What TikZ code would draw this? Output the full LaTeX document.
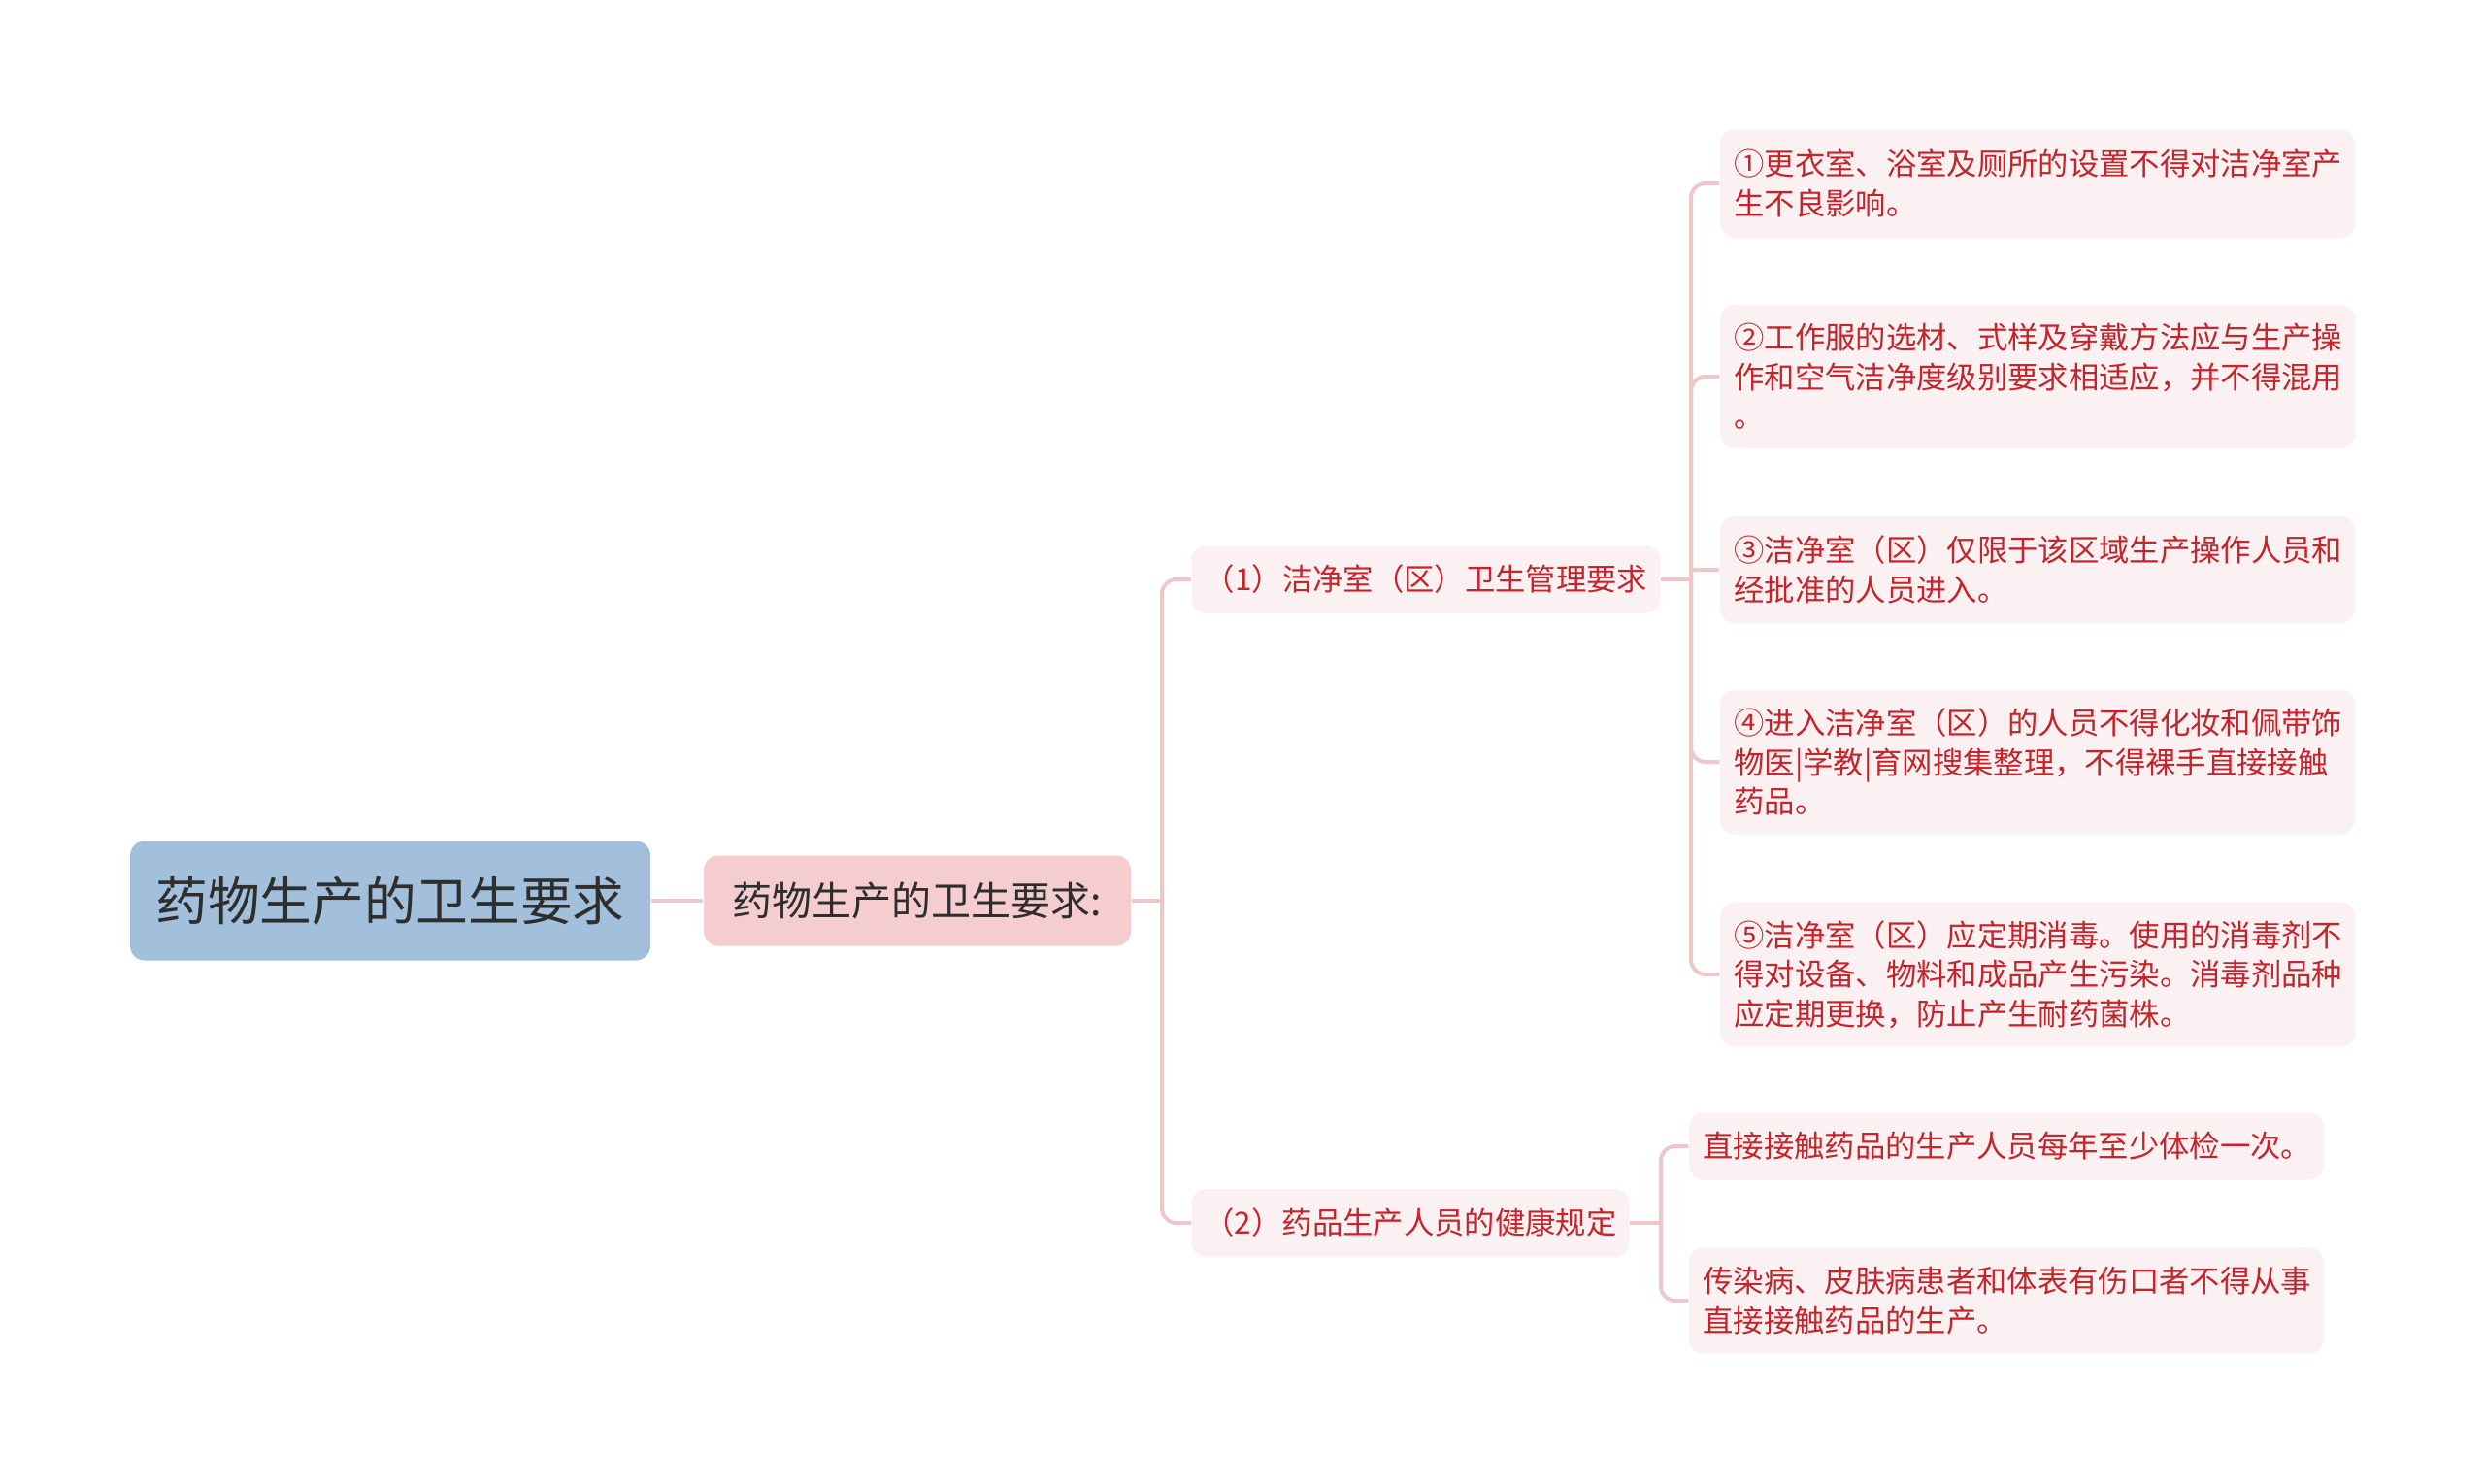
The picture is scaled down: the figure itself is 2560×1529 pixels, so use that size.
\documentclass[tikz,border=0pt]{standalone}
\usepackage{fontspec}
\setmainfont{Noto Sans CJK SC}
\definecolor{rootfill}{HTML}{A2C0DB}
\definecolor{lonefill}{HTML}{F6CDCF}
\definecolor{leaffill}{HTML}{FCF1F2}
\definecolor{redtext}{HTML}{C4242A}
\definecolor{darktext}{HTML}{2E2E2E}
\definecolor{linec}{HTML}{F0C7C9}
\tikzset{
  conn/.style={draw=linec, line width=1.2pt},
  elbow/.style={conn, rounded corners=4.5pt},
  rootbox/.style={fill=rootfill, rounded corners=4.5pt, minimum width=160.8pt, minimum height=36.9pt, inner sep=0pt, text=darktext, font=\fontsize{16.1pt}{19pt}\selectfont},
  lonebox/.style={fill=lonefill, rounded corners=4.5pt, minimum width=132pt, minimum height=27.9pt, inner sep=0pt, text=darktext, font=\fontsize{12.3pt}{14pt}\selectfont},
  subbox/.style={fill=leaffill, rounded corners=4.5pt, minimum height=20.7pt, inner sep=0pt, text=redtext, font=\fontsize{9.4pt}{12pt}\selectfont},
  leafbox/.style={fill=leaffill, rounded corners=4.5pt, inner xsep=4.3pt, inner ysep=0pt, text width=187.6pt, align=left, text=redtext, font=\fontsize{9.4pt}{12.1pt}\selectfont}
}
\begin{document}
\begin{tikzpicture}[x=0.3pt,y=-0.3pt]
\fill[white] (0,0) rectangle (2560,1529);
\useasboundingbox (0,0) rectangle (2560,1529);

\node[rootbox] (root) at (402,928) {药物生产的卫生要求};
\node[lonebox] (l1) at (945,928) {药物生产的卫生要求:};

\node[subbox, minimum width=144.9pt] (c1) at (1469,597) {（1）洁净室（区）卫生管理要求};
\node[subbox, minimum width=135.3pt, minimum height=21pt] (c2) at (1453,1260) {（2）药品生产人员的健康规定};

\node[leafbox, minimum height=33.6pt] (a1) at (2099,189) {①更衣室、浴室及厕所的设置不得对洁净室产\\生不良影响。};
\node[leafbox, minimum height=44.4pt] (a2) at (2099,388) {②工作服的选材、式样及穿戴方法应与生产操\\作和空气洁净度级别要求相适应，并不得混用\\。};
\node[leafbox, minimum height=33pt] (a3) at (2099,587) {③洁净室（区）仅限于该区域生产操作人员和\\经批准的人员进入。};
\node[leafbox, minimum height=44.7pt] (a4) at (2099,785) {④进入洁净室（区）的人员不得化妆和佩带饰\\物医|学教|育网搜集整理，不得裸手直接接触\\药品。};
\node[leafbox, minimum height=44.7pt] (a5) at (2099,1004) {⑤洁净室（区）应定期消毒。使用的消毒剂不\\得对设备、物料和成品产生污染。消毒剂品种\\应定期更换，防止产生耐药菌株。};

\node[leafbox, minimum height=20.7pt] (b1) at (2067,1181) {直接接触药品的生产人员每年至少体检一次。};
\node[leafbox, minimum height=33pt] (b2) at (2067,1340) {传染病、皮肤病患者和体表有伤口者不得从事\\直接接触药品的生产。};

\coordinate (j1) at (1197,928);
\coordinate (j2) at (1742,597);
\coordinate (j3) at (1711,1260);

\draw[conn] (root.east) -- (l1.west);
\draw[conn] (l1.east) -- (j1);
\draw[elbow] (j1) |- (c1.west);
\draw[elbow] (j1) |- (c2.west);

\draw[conn] (c1.east) -- (j2);
\draw[elbow] (j2) |- (a1.west);
\draw[elbow] (j2) |- (a2.west);
\draw[conn] (j2 |- a3.west) -- (a3.west);
\draw[elbow] (j2) |- (a4.west);
\draw[elbow] (j2) |- (a5.west);

\draw[conn] (c2.east) -- (j3);
\draw[elbow] (j3) |- (b1.west);
\draw[elbow] (j3) |- (b2.west);
\end{tikzpicture}
\end{document}
